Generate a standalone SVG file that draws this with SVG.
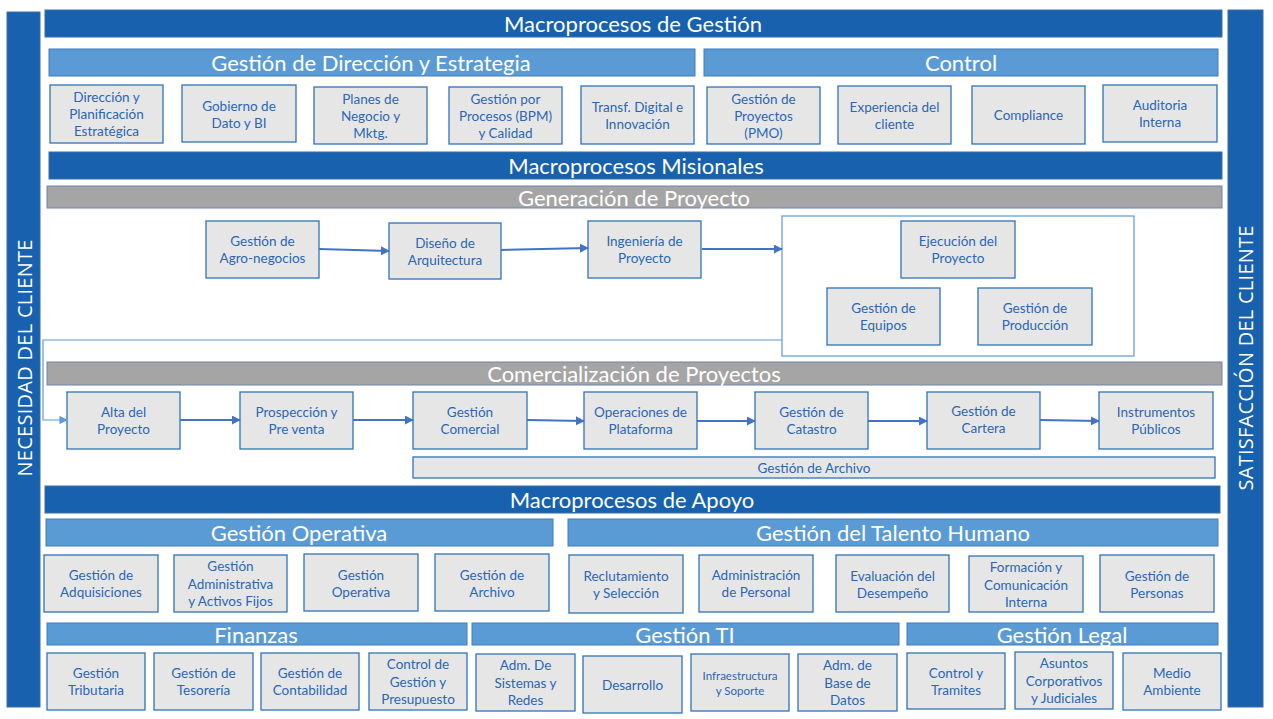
<svg xmlns="http://www.w3.org/2000/svg" width="1273" height="719" viewBox="0 0 1273 719">
<style>
.dk{fill:#1761AE;stroke:#3A6FA6;stroke-width:1}
.md{fill:#5B9BD5;stroke:#3F7DC0;stroke-width:1}
.gr{fill:#A5A5A5;stroke:#6F86A8;stroke-width:1}
.b{fill:#E7E6E6;stroke:#2E75B6;stroke-width:1.3}
.h{font-family:Lato,"Open Sans","Liberation Sans",sans-serif;fill:#fff;text-anchor:middle;dominant-baseline:central}
.h1{font-size:22px}
.h2{font-size:22px}
.t{font-family:Lato,"Open Sans","Liberation Sans",sans-serif;font-size:13.5px;fill:#2967B5;text-anchor:middle;dominant-baseline:central}
.v{font-family:"Open Sans","DejaVu Sans",sans-serif;font-size:20px;fill:#fff;text-anchor:middle;dominant-baseline:central}
.a{stroke:#4472C4;stroke-width:2;fill:none;marker-end:url(#ah)}
</style>
<defs>
<marker id="ah" viewBox="0 0 10 10" refX="9" refY="5" markerWidth="4.5" markerHeight="4.5" orient="auto" markerUnits="strokeWidth"><path d="M0,0 L10,5 L0,10 z" fill="#4472C4"/></marker>
<marker id="ah2" viewBox="0 0 10 10" refX="9" refY="5" markerWidth="7" markerHeight="7" orient="auto" markerUnits="strokeWidth"><path d="M0,0 L10,5 L0,10 z" fill="#5B9BD5"/></marker>
</defs>
<rect width="1273" height="719" fill="#fff"/>

<g id="side-left"><rect x="7" y="12" width="33" height="695" class="dk"/><text class="v" transform="translate(24,358) rotate(-90)" textLength="237" lengthAdjust="spacing">NECESIDAD DEL CLIENTE</text></g>
<g id="side-right"><rect x="1228" y="10" width="35" height="697" class="dk"/><text class="v" transform="translate(1245,358) rotate(-90)" textLength="265" lengthAdjust="spacing">SATISFACCIÓN DEL CLIENTE</text></g>

<g id="hdr-gestion"><rect x="45" y="10" width="1177" height="27" class="dk"/><text class="h h1" x="633" y="23.5">Macroprocesos de Gestión</text></g>
<g id="hdr-direccion"><rect x="49" y="49" width="646" height="27" class="md"/><text class="h h2" x="371" y="62.5">Gestión de Dirección y Estrategia</text></g>
<g id="hdr-control"><rect x="704" y="49" width="514" height="27" class="md"/><text class="h h2" x="961" y="62.5">Control</text></g>

<g id="n-direccion"><rect x="50" y="85" width="113" height="58" class="b"/><text class="t" x="106.5" y="97">Dirección y</text><text class="t" x="106.5" y="114">Planificación</text><text class="t" x="106.5" y="131">Estratégica</text></g>
<g id="n-gobierno"><rect x="182" y="85" width="114" height="57" class="b"/><text class="t" x="239" y="105.5">Gobierno de</text><text class="t" x="239" y="122.5">Dato y BI</text></g>
<g id="n-planes"><rect x="314" y="87" width="113" height="57" class="b"/><text class="t" x="370.5" y="98.5">Planes de</text><text class="t" x="370.5" y="115.5">Negocio y</text><text class="t" x="370.5" y="132.5">Mktg.</text></g>
<g id="n-bpm"><rect x="449" y="87" width="113" height="57" class="b"/><text class="t" x="505.5" y="98.5">Gestión por</text><text class="t" x="505.5" y="115.5">Procesos (BPM)</text><text class="t" x="505.5" y="132.5">y Calidad</text></g>
<g id="n-transf"><rect x="581" y="86" width="113" height="58" class="b"/><text class="t" x="637.5" y="106.5">Transf. Digital e</text><text class="t" x="637.5" y="123.5">Innovación</text></g>
<g id="n-pmo"><rect x="707" y="87" width="113" height="57" class="b"/><text class="t" x="763.5" y="98.5">Gestión de</text><text class="t" x="763.5" y="115.5">Proyectos</text><text class="t" x="763.5" y="132.5">(PMO)</text></g>
<g id="n-experiencia"><rect x="838" y="86" width="113" height="58" class="b"/><text class="t" x="894.5" y="106.5">Experiencia del</text><text class="t" x="894.5" y="123.5">cliente</text></g>
<g id="n-compliance"><rect x="972" y="86" width="113" height="58" class="b"/><text class="t" x="1028.5" y="115">Compliance</text></g>
<g id="n-auditoria"><rect x="1103" y="85" width="114" height="57" class="b"/><text class="t" x="1160" y="105">Auditoria</text><text class="t" x="1160" y="122">Interna</text></g>

<g id="hdr-misionales"><rect x="49" y="152" width="1173" height="27" class="dk"/><text class="h h1" x="636" y="165.5">Macroprocesos Misionales</text></g>
<g id="hdr-generacion"><rect x="47" y="186" width="1175" height="22" class="gr"/><text class="h h2" x="634" y="197">Generación de Proyecto</text></g>

<g id="n-container"><rect x="782" y="216" width="352" height="140" fill="#fff" stroke="#5B9BD5" stroke-width="1.2"/></g>
<g id="n-agro"><rect x="206" y="221" width="113" height="57" class="b"/><text class="t" x="262.5" y="241">Gestión de</text><text class="t" x="262.5" y="258">Agro-negocios</text></g>
<g id="n-diseno"><rect x="389" y="223" width="112" height="56" class="b"/><text class="t" x="445" y="242.5">Diseño de</text><text class="t" x="445" y="259.5">Arquitectura</text></g>
<g id="n-ingenieria"><rect x="588" y="221" width="113" height="57" class="b"/><text class="t" x="644.5" y="241">Ingeniería  de</text><text class="t" x="644.5" y="258">Proyecto</text></g>
<g id="n-ejecucion"><rect x="901" y="221" width="114" height="57" class="b"/><text class="t" x="958" y="241">Ejecución del</text><text class="t" x="958" y="258">Proyecto</text></g>
<g id="n-equipos"><rect x="827" y="288" width="113" height="57" class="b"/><text class="t" x="883.5" y="308">Gestión de</text><text class="t" x="883.5" y="325">Equipos</text></g>
<g id="n-produccion"><rect x="978" y="288" width="114" height="57" class="b"/><text class="t" x="1035" y="308">Gestión de</text><text class="t" x="1035" y="325">Producción</text></g>

<g id="hdr-comercializacion"><rect x="47" y="362" width="1175" height="23" class="gr"/><text class="h h2" x="634" y="373.5">Comercialización de Proyectos</text></g>

<g id="n-alta"><rect x="67" y="392" width="113" height="57" class="b"/><text class="t" x="123.5" y="412">Alta del</text><text class="t" x="123.5" y="429">Proyecto</text></g>
<g id="n-prospeccion"><rect x="240" y="392" width="113" height="57" class="b"/><text class="t" x="296.5" y="412">Prospección y</text><text class="t" x="296.5" y="429">Pre venta</text></g>
<g id="n-comercial"><rect x="413" y="392" width="114" height="57" class="b"/><text class="t" x="470" y="412">Gestión</text><text class="t" x="470" y="429">Comercial</text></g>
<g id="n-operaciones"><rect x="584" y="392" width="113" height="57" class="b"/><text class="t" x="640.5" y="412">Operaciones de</text><text class="t" x="640.5" y="429">Plataforma</text></g>
<g id="n-catastro"><rect x="755" y="392" width="113" height="57" class="b"/><text class="t" x="811.5" y="412">Gestión de</text><text class="t" x="811.5" y="429">Catastro</text></g>
<g id="n-cartera"><rect x="927" y="392" width="113" height="57" class="b"/><text class="t" x="983.5" y="411">Gestión de</text><text class="t" x="983.5" y="428">Cartera</text></g>
<g id="n-instrumentos"><rect x="1099" y="392" width="114" height="57" class="b"/><text class="t" x="1156" y="412">Instrumentos</text><text class="t" x="1156" y="429">Públicos</text></g>
<g id="n-archivo-bar"><rect x="413" y="457" width="802" height="21" class="b"/><text class="t" x="814" y="467.5">Gestión de Archivo</text></g>

<g id="connectors">
<path class="a" d="M319,249 L389,251"/>
<path class="a" d="M501,250 L588,248"/>
<path class="a" d="M702,249 L782,249"/>
<path d="M782,340 L43,340 L43,420 L67,420" fill="none" stroke="#5B9BD5" stroke-width="1.2" marker-end="url(#ah2)"/>
<path class="a" d="M180,420 L240,420"/>
<path class="a" d="M353,420 L413,420"/>
<path class="a" d="M527,420 L584,421"/>
<path class="a" d="M697,421 L755,421"/>
<path class="a" d="M868,421 L927,421"/>
<path class="a" d="M1040,420 L1099,421"/>
</g>

<g id="hdr-apoyo"><rect x="45" y="486" width="1175" height="27" class="dk"/><text class="h h1" x="632" y="499.5">Macroprocesos de Apoyo</text></g>
<g id="hdr-operativa"><rect x="46" y="519" width="507" height="27" class="md"/><text class="h h2" x="299" y="532.5">Gestión Operativa</text></g>
<g id="hdr-talento"><rect x="568" y="519" width="650" height="27" class="md"/><text class="h h2" x="893" y="532.5">Gestión del Talento Humano</text></g>

<g id="n-adquisiciones"><rect x="44" y="555" width="114" height="57" class="b"/><text class="t" x="101" y="575">Gestión de</text><text class="t" x="101" y="592">Adquisiciones</text></g>
<g id="n-administrativa"><rect x="174" y="555" width="113" height="57" class="b"/><text class="t" x="230.5" y="566">Gestión</text><text class="t" x="230.5" y="583.5">Administrativa</text><text class="t" x="230.5" y="601">y Activos Fijos</text></g>
<g id="n-operativa"><rect x="304" y="554" width="114" height="57" class="b"/><text class="t" x="361" y="575">Gestión</text><text class="t" x="361" y="592">Operativa</text></g>
<g id="n-archivo"><rect x="435" y="554" width="114" height="57" class="b"/><text class="t" x="492" y="575">Gestión de</text><text class="t" x="492" y="592">Archivo</text></g>
<g id="n-reclutamiento"><rect x="569" y="555" width="114" height="58" class="b"/><text class="t" x="626" y="576">Reclutamiento</text><text class="t" x="626" y="593">y Selección</text></g>
<g id="n-personal"><rect x="699" y="555" width="114" height="57" class="b"/><text class="t" x="756" y="575">Administración</text><text class="t" x="756" y="592">de Personal</text></g>
<g id="n-evaluacion"><rect x="836" y="555" width="113" height="57" class="b"/><text class="t" x="892.5" y="576">Evaluación del</text><text class="t" x="892.5" y="593">Desempeño</text></g>
<g id="n-formacion"><rect x="969" y="556" width="114" height="56" class="b"/><text class="t" x="1026" y="567">Formación y</text><text class="t" x="1026" y="584.5">Comunicación</text><text class="t" x="1026" y="602">Interna</text></g>
<g id="n-personas"><rect x="1100" y="555" width="114" height="57" class="b"/><text class="t" x="1157" y="576">Gestión de</text><text class="t" x="1157" y="593">Personas</text></g>

<g id="hdr-finanzas"><rect x="47" y="623" width="420" height="22" class="md"/><text class="h h2" x="256" y="634">Finanzas</text></g>
<g id="hdr-ti"><rect x="472" y="623" width="427" height="22" class="md"/><text class="h h2" x="685" y="634">Gestión TI</text></g>
<g id="hdr-legal"><rect x="907" y="623" width="311" height="22" class="md"/><text class="h h2" x="1062" y="634">Gestión Legal</text></g>

<g id="n-tributaria"><rect x="47" y="653" width="98" height="57" class="b"/><text class="t" x="96" y="673">Gestión</text><text class="t" x="96" y="690">Tributaria</text></g>
<g id="n-tesoreria"><rect x="154" y="653" width="99" height="57" class="b"/><text class="t" x="203.5" y="673">Gestión de</text><text class="t" x="203.5" y="690">Tesorería</text></g>
<g id="n-contabilidad"><rect x="261" y="653" width="98" height="57" class="b"/><text class="t" x="310" y="673">Gestión de</text><text class="t" x="310" y="690">Contabilidad</text></g>
<g id="n-control-gestion"><rect x="369" y="653" width="98" height="57" class="b"/><text class="t" x="418" y="664">Control de</text><text class="t" x="418" y="681.5">Gestión y</text><text class="t" x="418" y="699">Presupuesto</text></g>
<g id="n-sistemas"><rect x="476" y="654" width="99" height="57" class="b"/><text class="t" x="525.5" y="665">Adm. De</text><text class="t" x="525.5" y="682.5">Sistemas y</text><text class="t" x="525.5" y="700">Redes</text></g>
<g id="n-desarrollo"><rect x="583" y="656" width="99" height="57" class="b"/><text class="t" x="632.5" y="684.5">Desarrollo</text></g>
<g id="n-infra"><rect x="691" y="654" width="98" height="57" class="b"/><text class="t" x="740" y="675" style="font-size:11.5px">Infraestructura</text><text class="t" x="740" y="690" style="font-size:11.5px">y Soporte</text></g>
<g id="n-basedatos"><rect x="798" y="654" width="99" height="57" class="b"/><text class="t" x="847.5" y="665">Adm. de</text><text class="t" x="847.5" y="682.5">Base de</text><text class="t" x="847.5" y="700">Datos</text></g>
<g id="n-tramites"><rect x="907" y="653" width="98" height="56" class="b"/><text class="t" x="956" y="673">Control y</text><text class="t" x="956" y="690">Tramites</text></g>
<g id="n-asuntos"><rect x="1015" y="652" width="98" height="57" class="b"/><text class="t" x="1064" y="663">Asuntos</text><text class="t" x="1064" y="680.5">Corporativos</text><text class="t" x="1064" y="698">y Judiciales</text></g>
<g id="n-medio"><rect x="1123" y="653" width="98" height="57" class="b"/><text class="t" x="1172" y="673">Medio</text><text class="t" x="1172" y="690">Ambiente</text></g>
</svg>
